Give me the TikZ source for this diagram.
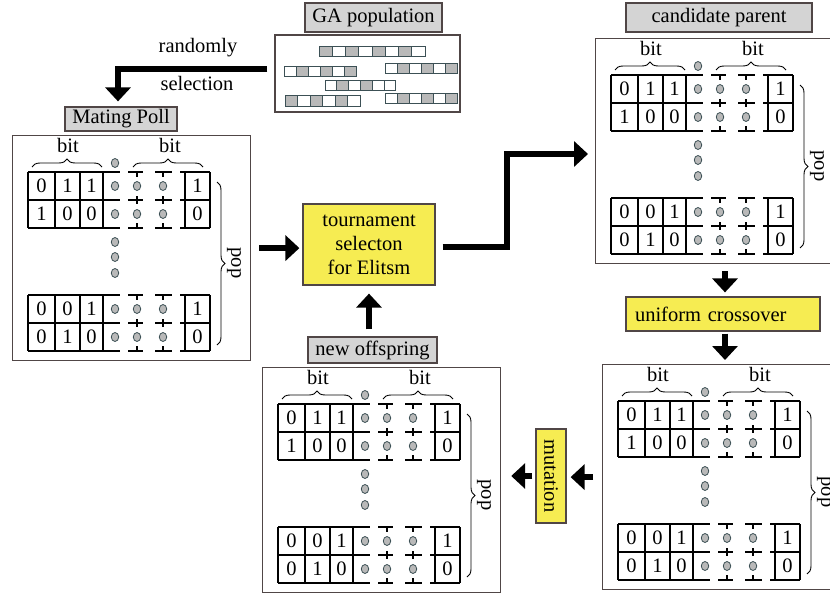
\documentclass[tikz,border=0pt]{standalone}
\usepackage{fontspec}
\usepackage{graphicx}
\setmainfont{Liberation Serif}
\usetikzlibrary{arrows.meta,shapes.geometric,decorations.pathreplacing,positioning}

\definecolor{framegray}{RGB}{80,70,70}
\definecolor{tagfill}{RGB}{212,212,212}
\definecolor{notefill}{RGB}{246,236,82}
\definecolor{dotfill}{RGB}{185,185,185}
\definecolor{dotline}{RGB}{60,80,85}

\tikzset{
  panel/.style={draw=framegray, line width=1.2pt, minimum width=238pt, minimum height=225pt, inner sep=0pt},
  tag/.style={draw=framegray, fill=tagfill, line width=1.2pt, inner sep=0pt},
  stepbox/.style={draw=framegray, fill=notefill, line width=1.2pt, inner sep=0pt},
  cellline/.style={line width=1.3pt},
  rowline/.style={line width=1.9pt},
  bead/.style={ellipse, draw=dotline, fill=dotfill, line width=0.8pt, minimum width=7.5pt, minimum height=9pt, inner sep=0pt},
  digit/.style={inner sep=0pt},
  bitbrace/.style={decorate, decoration={brace, amplitude=8pt}, line width=0.9pt},
  flow/.style={line width=6.5pt, -{Triangle[length=14pt,width=25pt]}},
  gene/.style={draw=dotline, line width=1pt},
}

% one block of two chromosome rows, #1 = y of its top line
\newcommand\bitblock[1]{%
  \foreach \dy in {0,28,56}{
    \draw[rowline] (16,#1+\dy) -- (108,#1+\dy);
    \draw[rowline] (116,#1+\dy) -- (131,#1+\dy);
    \draw[rowline] (143,#1+\dy) -- (160,#1+\dy);
    \draw[rowline] (168,#1+\dy) -- (198,#1+\dy);
  }
  \foreach \x in {16,43,68,91,173,198}
    \draw[cellline] (\x,#1) -- (\x,#1+56);
  \foreach \x in {125,151}{
    \draw[cellline] (\x,#1) -- (\x,#1+5);
    \draw[cellline] (\x,#1+24) -- (\x,#1+32);
    \draw[cellline] (\x,#1+51) -- (\x,#1+56);
  }
}

% a population panel, #1 = name, #2 = north west corner
\newcommand\poppanel[2]{%
  \node[panel, anchor=north west] (#1) at (#2) {};
  \begin{scope}[shift={(#1.north west)}]
    \bitblock{37}
    \bitblock{160}
    \node (#1-bitl) at (56,10) {bit};
    \node (#1-bitr) at (158,10) {bit};
    \draw[bitbrace] (20,32) -- (90,32);
    \draw[bitbrace] (121,32) -- (191,32);
    \draw[bitbrace] (205,47) -- (205,210);
    \node[rotate=-90] (#1-pop) at (222,128) {pop};
    \foreach \d/\x [count=\i] in {0/29.5,1/55.5,1/79.5,1/185.5}
      \node[digit] (#1-a\i) at (\x,51) {\d};
    \foreach \d/\x [count=\i] in {1/29.5,0/55.5,0/79.5,0/185.5}
      \node[digit] (#1-b\i) at (\x,79) {\d};
    \foreach \d/\x [count=\i] in {0/29.5,0/55.5,1/79.5,1/185.5}
      \node[digit] (#1-c\i) at (\x,174) {\d};
    \foreach \d/\x [count=\i] in {0/29.5,1/55.5,0/79.5,0/185.5}
      \node[digit] (#1-d\i) at (\x,202) {\d};
    \foreach \y [count=\j] in {51,79,174,202}
      \foreach \x [count=\i] in {103,125,151}
        \node[bead] (#1-o\j\i) at (\x,\y) {};
    \foreach \y [count=\j] in {28,107,122,138}
      \node[bead] (#1-v\j) at (103,\y) {};
  \end{scope}
}

% one string of genes: x, y, cell width, cell height, fills
\newcommand\generow[5]{%
  \foreach \f [count=\i] in {#5}
    \draw[gene, fill=\f] (#1+\i*#3-#3,#2) rectangle ++(#3,#4);
}

\begin{document}
\begin{tikzpicture}[x=1pt, y=-1pt, font=\fontsize{20.5}{24}\selectfont, line join=miter]
\useasboundingbox (0,0) rectangle (830,597);

% GA population
\node[tag, minimum width=137pt, minimum height=29pt] (gatag) at (373.5,17.5) {GA population};
\node[panel, minimum width=185pt, minimum height=77pt] (ga) at (367.5,73.5) {};
\generow{319}{46}{13.25}{10.5}{dotfill,white,dotfill,white,dotfill,white,dotfill,white}
\generow{284}{66}{12}{10}{white,dotfill,white,dotfill,white,dotfill}
\generow{385}{63.5}{12}{10}{white,dotfill,white,dotfill,white,dotfill}
\generow{325}{80}{11.8}{10.5}{white,dotfill,white,dotfill,white,white}
\generow{285}{95}{12.5}{11}{dotfill,white,dotfill,white,dotfill,white}
\generow{385}{93.5}{12}{10}{white,dotfill,white,dotfill,white,dotfill}

% panels
\poppanel{mating}{12,135}
\poppanel{parent}{595,38}
\poppanel{child}{602,364}
\poppanel{offspring}{262,367}

\node[tag, minimum width=112pt, minimum height=24pt] (matingtag) at (121,119) {Mating Poll};
\node[tag, minimum width=186pt, minimum height=29pt] (parenttag) at (719,17.5) {candidate parent};
\node[tag, minimum width=129pt, minimum height=26pt] (offspringtag) at (372.5,350) {new offspring};

% operators
\node[stepbox, minimum width=132pt, minimum height=81pt, align=center] (tourn) at (369,244.5) {tournament\\selecton\\for Elitsm};
\node[stepbox, minimum width=194pt, minimum height=34pt, text width=176pt, align=left] (cross) at (723,314) {uniform crossover};
\node[stepbox, minimum width=30pt, minimum height=94pt] (mutation) at (551,476) {\rotatebox{-90}{mutation}};

% flow
\node (randomly) at (198,48) {randomly};
\node (selection) at (197,83) {selection};
\draw[flow, shorten <=7pt, shorten >=5pt] ([yshift=4.5pt]ga.west) -| ([xshift=-3pt]matingtag.north);
\draw[flow, shorten <=8pt, shorten >=3pt] (mating.east) -- (mating.east -| tourn.west);
\draw[flow, shorten <=7pt, shorten >=8pt] (offspringtag.north -| tourn.south) -- (tourn.south);
\coordinate (rise) at (507,154);
\draw[flow, shorten <=7pt, shorten >=7pt] ([yshift=-2.5pt]tourn.east) -| (rise) -- (rise -| parent.west);
\draw[flow, shorten <=7pt, shorten >=4pt] ([xshift=2pt]cross.north |- parent.south) -- ([xshift=2pt]cross.north);
\draw[flow, shorten <=2pt, shorten >=4pt] ([xshift=2pt]cross.south) -- ([xshift=2pt]cross.south |- child.north);
\draw[flow, shorten <=9pt, shorten >=4pt] (child.west) -- (child.west -| mutation.east);
\draw[flow, shorten <=3pt, shorten >=10pt] (mutation.west) -- (mutation.west -| offspring.east);
\end{tikzpicture}
\end{document}
